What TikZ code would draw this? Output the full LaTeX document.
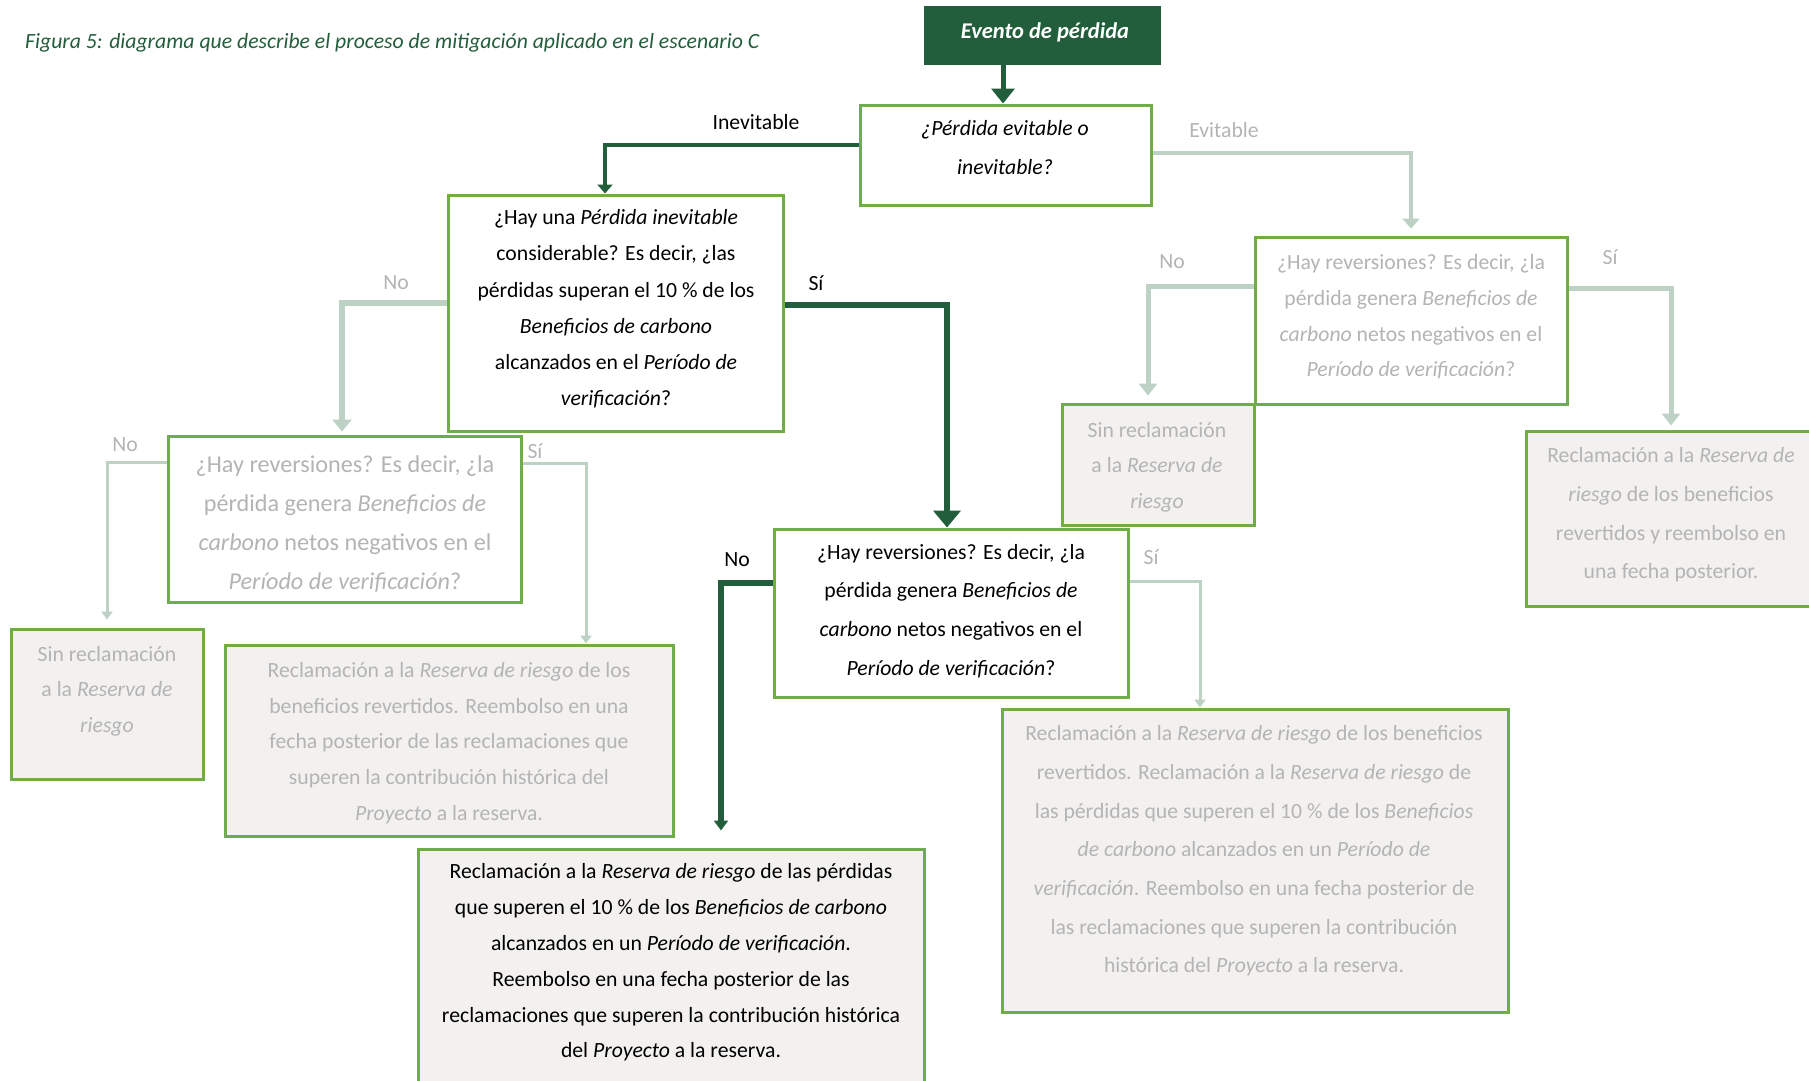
\documentclass[tikz,border=0pt]{standalone}
\usepackage{fontspec}
\setmainfont{Carlito}
\usetikzlibrary{arrows.meta}
\definecolor{dkgreen}{HTML}{225E3B}
\definecolor{bgreen}{HTML}{70AD47}
\definecolor{gcon}{HTML}{BDD2C5}
\definecolor{gtext}{HTML}{B4B4B4}
\definecolor{fgray}{HTML}{F2F1EF}
\tikzset{
  box/.style={draw=bgreen, line width=3pt, inner sep=0pt, rectangle},
  qbox/.style={box, fill=white},
  abox/.style={box, fill=fgray},
  txt/.style={align=center, inner sep=0pt, font=\fontsize{21.7}{#1}\selectfont},
  lbl/.style={inner sep=0pt, font=\fontsize{21.7}{26}\selectfont},
  dkline/.style={draw=dkgreen, line width=#1},
  gline/.style={draw=gcon, line width=#1},
}
\begin{document}
\begin{tikzpicture}[x=1pt,y=-1pt]
\clip (0,0) rectangle (1809,1080);
\fill[white] (0,0) rectangle (1809,1080);

% title
\node[anchor=west, inner sep=0pt, text=dkgreen, font=\fontsize{21.7}{24}\selectfont\itshape] (title) at (25,43)
  {Figura 5: diagrama que describe el proceso de mitigación aplicado en el escenario C};

% boxes
\node[rectangle, fill=dkgreen, minimum width=237, minimum height=59, inner sep=0pt] (ev) at (1042.5,35.5) {};
\node[txt=26, text=white, font=\fontsize{22.5}{26}\selectfont\bfseries\itshape] (evt) at (1045,32) {Evento de pérdida};

\node[qbox, minimum width=291, minimum height=100] (q1) at (1005.5,155) {};
\node[txt=39, font=\fontsize{21.7}{39}\selectfont\itshape] (q1t) at (1005,148) {¿Pérdida evitable o\\inevitable?};

\node[qbox, minimum width=335, minimum height=236] (q2) at (615.5,313) {};
\node[txt=36.2] (q2t) at (616,309) {¿Hay una \textit{Pérdida inevitable}\\considerable? Es decir, ¿las\\pérdidas superan el 10~\% de los\\\textit{Beneficios de carbono}\\alcanzados en el \textit{Período de}\\\textit{verificación}?};

\node[qbox, minimum width=312, minimum height=167] (q3) at (1411,320.5) {};
\node[txt=35.7, text=gtext] (q3t) at (1411,317) {¿Hay reversiones? Es decir, ¿la\\pérdida genera \textit{Beneficios de}\\\textit{carbono} netos negativos en el\\\textit{Período de verificación}?};

\node[qbox, minimum width=354, minimum height=168] (q4) at (951,613) {};
\node[txt=38.7] (q4t) at (951,611) {¿Hay reversiones? Es decir, ¿la\\pérdida genera \textit{Beneficios de}\\\textit{carbono} netos negativos en el\\\textit{Período de verificación}?};

\node[qbox, minimum width=353, minimum height=166] (q5) at (344.5,519) {};
\node[align=center, inner sep=0pt, font=\fontsize{24.2}{39.3}\selectfont, text=gtext] (q5t) at (345,524) {¿Hay reversiones? Es decir, ¿la\\pérdida genera \textit{Beneficios de}\\\textit{carbono} netos negativos en el\\\textit{Período de verificación}?};

\node[abox, minimum width=192, minimum height=150] (s1) at (107,704) {};
\node[txt=35.5, text=gtext] (s1t) at (107,691) {Sin reclamación\\a la \textit{Reserva de}\\\textit{riesgo}};

\node[abox, minimum width=448, minimum height=191] (r2) at (449,740.5) {};
\node[txt=35.75, text=gtext] (r2t) at (449,743) {Reclamación a la \textit{Reserva de riesgo} de los\\beneficios revertidos. Reembolso en una\\fecha posterior de las reclamaciones que\\superen la contribución histórica del\\\textit{Proyecto} a la reserva.};

\node[abox, minimum width=192, minimum height=121] (s2) at (1158,464.5) {};
\node[txt=35.5, text=gtext] (s2t) at (1157,467) {Sin reclamación\\a la \textit{Reserva de}\\\textit{riesgo}};

\node[abox, minimum width=290, minimum height=175] (r4) at (1671,518.5) {};
\node[txt=38.7, text=gtext] (r4t) at (1671,515) {Reclamación a la \textit{Reserva de}\\\textit{riesgo} de los beneficios\\revertidos y reembolso en\\una fecha posterior.};

\node[abox, minimum width=506, minimum height=303] (r3) at (1255,860.5) {};
\node[txt=38.7, text=gtext] (r3t) at (1254,851) {Reclamación a la \textit{Reserva de riesgo} de los beneficios\\revertidos. Reclamación a la \textit{Reserva de riesgo} de\\las pérdidas que superen el 10~\% de los \textit{Beneficios}\\\textit{de carbono} alcanzados en un \textit{Período de}\\\textit{verificación}. Reembolso en una fecha posterior de\\las reclamaciones que superen la contribución\\histórica del \textit{Proyecto} a la reserva.};

\node[abox, minimum width=506, minimum height=251] (fin) at (671,974.5) {};
\node[txt=35.8] (fint) at (671,962.5) {Reclamación a la \textit{Reserva de riesgo} de las pérdidas\\que superen el 10~\% de los \textit{Beneficios de carbono}\\alcanzados en un \textit{Período de verificación}.\\Reembolso en una fecha posterior de las\\reclamaciones que superen la contribución histórica\\del \textit{Proyecto} a la reserva.};

% labels
\node[lbl] (lInev) at (756,122) {Inevitable};
\node[lbl, text=gtext] (lEvit) at (1224,130) {Evitable};
\node[lbl] (lq2si) at (816,283) {Sí};
\node[lbl, text=gtext] (lq2no) at (396,283) {No};
\node[lbl, text=gtext] (lq5no) at (125,445) {No};
\node[lbl, text=gtext] (lq5si) at (535,451) {Sí};
\node[lbl] (lq4no) at (737,560) {No};
\node[lbl, text=gtext] (lq4si) at (1151,557) {Sí};
\node[lbl, text=gtext] (lq3no) at (1172,262) {No};
\node[lbl, text=gtext] (lq3si) at (1610,257) {Sí};

% connectors
\draw[dkline=5pt, -{Triangle[width=23pt 0 0, length=15pt 0 0]}] (1003,0 |- ev.south) -- (1003,0 |- q1.north);
\draw[dkline=4.5pt, -{Triangle[width=15pt 0 0, length=9pt 0 0]}] (q1.west |- 0,145) -| (605,0 |- q2.north);
\draw[gline=4.5pt, -{Triangle[width=17pt 0 0, length=10pt 0 0]}, shorten >=7pt] (q1.east |- 0,153) -| (1411,0 |- q3.north);
\draw[dkline=6pt, -{Triangle[width=27pt 0 0, length=17pt 0 0]}] (q2.east |- 0,305) -| (947,0 |- q4.north);
\draw[gline=6pt, -{Triangle[width=19pt 0 0, length=12pt 0 0]}, shorten >=3pt] (q2.west |- 0,303) -| (342,0 |- q5.north);
\draw[gline=3pt, -{Triangle[width=11pt 0 0, length=8pt 0 0]}, shorten >=8pt] (q5.west |- 0,462) -| (107,0 |- s1.north);
\draw[gline=3pt, -{Triangle[width=11pt 0 0, length=8pt 0 0]}] (q5.east |- 0,463) -| (586,0 |- r2.north);
\draw[dkline=6pt, -{Triangle[width=14pt 0 0, length=10pt 0 0]}, shorten >=17pt] (q4.west |- 0,583) -| (721,0 |- fin.north);
\draw[gline=3pt, -{Triangle[width=11pt 0 0, length=8pt 0 0]}] (q4.east |- 0,581) -| (1200,0 |- r3.north);
\draw[gline=5pt, -{Triangle[width=18pt 0 0, length=12pt 0 0]}, shorten >=7pt] (q3.west |- 0,286) -| (1148,0 |- s2.north);
\draw[gline=5pt, -{Triangle[width=18pt 0 0, length=12pt 0 0]}, shorten >=4pt] (q3.east |- 0,288) -| (1671,0 |- r4.north);
\end{tikzpicture}
\end{document}
